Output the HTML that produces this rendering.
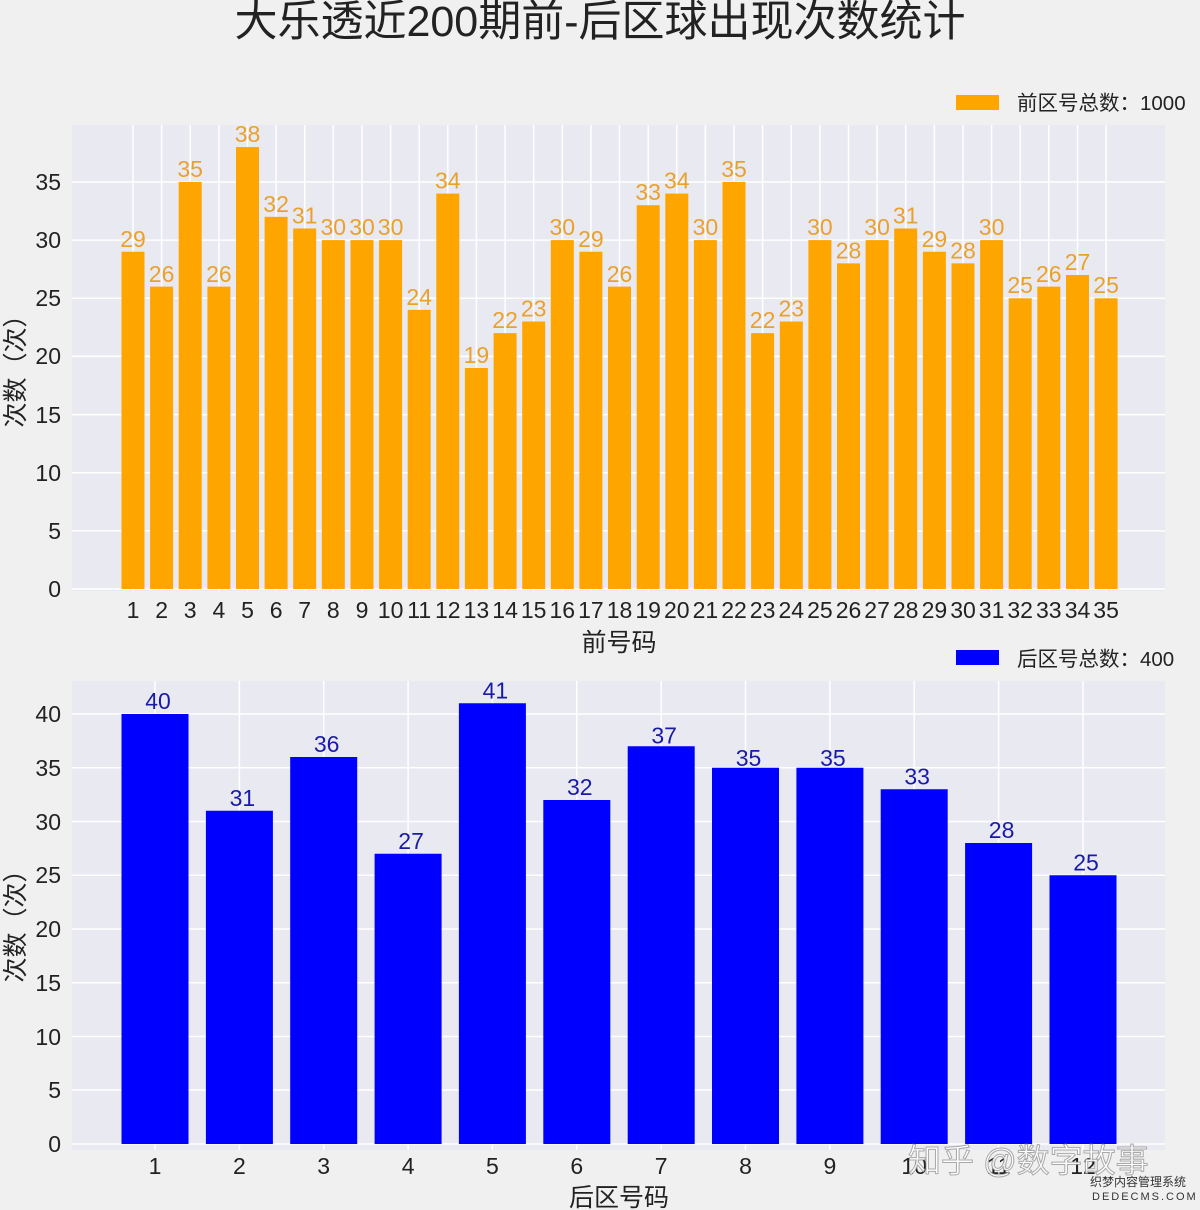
<!DOCTYPE html>
<html><head><meta charset="utf-8"><style>
html,body{margin:0;padding:0;background:#f0f0f0}
svg{display:block}
text{font-family:"Liberation Sans","Noto Sans CJK SC",sans-serif}
</style></head><body>
<svg width="1200" height="1210" viewBox="0 0 1200 1210" xmlns="http://www.w3.org/2000/svg">
<rect width="1200" height="1210" fill="#f0f0f0"/>
<text x="600" y="36" font-size="43" text-anchor="middle" fill="#222">大乐透近200期前-后区球出现次数统计</text>

<!-- TOP -->
<rect x="72" y="125" width="1093" height="466" fill="#e9e9f2"/>
<g stroke="#fff" stroke-width="1.5">
<line x1="72" x2="1165" y1="589" y2="589"/><line x1="72" x2="1165" y1="530.9" y2="530.9"/><line x1="72" x2="1165" y1="472.7" y2="472.7"/><line x1="72" x2="1165" y1="414.6" y2="414.6"/><line x1="72" x2="1165" y1="356.4" y2="356.4"/><line x1="72" x2="1165" y1="298.3" y2="298.3"/><line x1="72" x2="1165" y1="240.1" y2="240.1"/><line x1="72" x2="1165" y1="182" y2="182"/>
<line x1="133" x2="133" y1="125" y2="591"/><line x1="161.6" x2="161.6" y1="125" y2="591"/><line x1="190.2" x2="190.2" y1="125" y2="591"/><line x1="218.9" x2="218.9" y1="125" y2="591"/><line x1="247.5" x2="247.5" y1="125" y2="591"/><line x1="276.1" x2="276.1" y1="125" y2="591"/><line x1="304.7" x2="304.7" y1="125" y2="591"/><line x1="333.3" x2="333.3" y1="125" y2="591"/><line x1="362" x2="362" y1="125" y2="591"/><line x1="390.6" x2="390.6" y1="125" y2="591"/><line x1="419.2" x2="419.2" y1="125" y2="591"/><line x1="447.8" x2="447.8" y1="125" y2="591"/><line x1="476.4" x2="476.4" y1="125" y2="591"/><line x1="505.1" x2="505.1" y1="125" y2="591"/><line x1="533.7" x2="533.7" y1="125" y2="591"/><line x1="562.3" x2="562.3" y1="125" y2="591"/><line x1="590.9" x2="590.9" y1="125" y2="591"/><line x1="619.5" x2="619.5" y1="125" y2="591"/><line x1="648.2" x2="648.2" y1="125" y2="591"/><line x1="676.8" x2="676.8" y1="125" y2="591"/><line x1="705.4" x2="705.4" y1="125" y2="591"/><line x1="734" x2="734" y1="125" y2="591"/><line x1="762.6" x2="762.6" y1="125" y2="591"/><line x1="791.3" x2="791.3" y1="125" y2="591"/><line x1="819.9" x2="819.9" y1="125" y2="591"/><line x1="848.5" x2="848.5" y1="125" y2="591"/><line x1="877.1" x2="877.1" y1="125" y2="591"/><line x1="905.7" x2="905.7" y1="125" y2="591"/><line x1="934.4" x2="934.4" y1="125" y2="591"/><line x1="963" x2="963" y1="125" y2="591"/><line x1="991.6" x2="991.6" y1="125" y2="591"/><line x1="1020.2" x2="1020.2" y1="125" y2="591"/><line x1="1048.8" x2="1048.8" y1="125" y2="591"/><line x1="1077.5" x2="1077.5" y1="125" y2="591"/><line x1="1106.1" x2="1106.1" y1="125" y2="591"/>
</g>
<g transform="translate(0,589) scale(1,-11.63)" fill="#ffa500">
<rect x="121.5" y="0" width="23" height="29"/><rect x="150.1" y="0" width="23" height="26"/><rect x="178.7" y="0" width="23" height="35"/><rect x="207.4" y="0" width="23" height="26"/><rect x="236" y="0" width="23" height="38"/><rect x="264.6" y="0" width="23" height="32"/><rect x="293.2" y="0" width="23" height="31"/><rect x="321.8" y="0" width="23" height="30"/><rect x="350.5" y="0" width="23" height="30"/><rect x="379.1" y="0" width="23" height="30"/><rect x="407.7" y="0" width="23" height="24"/><rect x="436.3" y="0" width="23" height="34"/><rect x="464.9" y="0" width="23" height="19"/><rect x="493.6" y="0" width="23" height="22"/><rect x="522.2" y="0" width="23" height="23"/><rect x="550.8" y="0" width="23" height="30"/><rect x="579.4" y="0" width="23" height="29"/><rect x="608" y="0" width="23" height="26"/><rect x="636.7" y="0" width="23" height="33"/><rect x="665.3" y="0" width="23" height="34"/><rect x="693.9" y="0" width="23" height="30"/><rect x="722.5" y="0" width="23" height="35"/><rect x="751.1" y="0" width="23" height="22"/><rect x="779.8" y="0" width="23" height="23"/><rect x="808.4" y="0" width="23" height="30"/><rect x="837" y="0" width="23" height="28"/><rect x="865.6" y="0" width="23" height="30"/><rect x="894.2" y="0" width="23" height="31"/><rect x="922.9" y="0" width="23" height="29"/><rect x="951.5" y="0" width="23" height="28"/><rect x="980.1" y="0" width="23" height="30"/><rect x="1008.7" y="0" width="23" height="25"/><rect x="1037.3" y="0" width="23" height="26"/><rect x="1066" y="0" width="23" height="27"/><rect x="1094.6" y="0" width="23" height="25"/>
</g>
<g font-size="23" fill="#eaa12c" text-anchor="middle" transform="translate(0,-2)">
<text x="133" y="249">29</text><text x="161.6" y="284">26</text><text x="190.2" y="179">35</text><text x="218.9" y="284">26</text><text x="247.5" y="144">38</text><text x="276.1" y="214">32</text><text x="304.7" y="225.5">31</text><text x="333.3" y="237">30</text><text x="362" y="237">30</text><text x="390.6" y="237">30</text><text x="419.2" y="307">24</text><text x="447.8" y="190.6">34</text><text x="476.4" y="365">19</text><text x="505.1" y="330">22</text><text x="533.7" y="318.5">23</text><text x="562.3" y="237">30</text><text x="590.9" y="249">29</text><text x="619.5" y="284">26</text><text x="648.2" y="202">33</text><text x="676.8" y="190.6">34</text><text x="705.4" y="237">30</text><text x="734" y="179">35</text><text x="762.6" y="330">22</text><text x="791.3" y="318.5">23</text><text x="819.9" y="237">30</text><text x="848.5" y="260.4">28</text><text x="877.1" y="237">30</text><text x="905.7" y="225.5">31</text><text x="934.4" y="249">29</text><text x="963" y="260.4">28</text><text x="991.6" y="237">30</text><text x="1020.2" y="295">25</text><text x="1048.8" y="284">26</text><text x="1077.5" y="272">27</text><text x="1106.1" y="295">25</text>
</g>
<g font-size="23" fill="#222" text-anchor="end">
<text x="61" y="597">0</text><text x="61" y="539">5</text><text x="61" y="481">10</text><text x="61" y="423">15</text><text x="61" y="364">20</text><text x="61" y="306">25</text><text x="61" y="248">30</text><text x="61" y="190">35</text>
</g>
<g font-size="23" fill="#222" text-anchor="middle">
<text x="133" y="618">1</text><text x="161.6" y="618">2</text><text x="190.2" y="618">3</text><text x="218.9" y="618">4</text><text x="247.5" y="618">5</text><text x="276.1" y="618">6</text><text x="304.7" y="618">7</text><text x="333.3" y="618">8</text><text x="362" y="618">9</text><text x="390.6" y="618">10</text><text x="419.2" y="618">11</text><text x="447.8" y="618">12</text><text x="476.4" y="618">13</text><text x="505.1" y="618">14</text><text x="533.7" y="618">15</text><text x="562.3" y="618">16</text><text x="590.9" y="618">17</text><text x="619.5" y="618">18</text><text x="648.2" y="618">19</text><text x="676.8" y="618">20</text><text x="705.4" y="618">21</text><text x="734" y="618">22</text><text x="762.6" y="618">23</text><text x="791.3" y="618">24</text><text x="819.9" y="618">25</text><text x="848.5" y="618">26</text><text x="877.1" y="618">27</text><text x="905.7" y="618">28</text><text x="934.4" y="618">29</text><text x="963" y="618">30</text><text x="991.6" y="618">31</text><text x="1020.2" y="618">32</text><text x="1048.8" y="618">33</text><text x="1077.5" y="618">34</text><text x="1106.1" y="618">35</text>
<text x="619" y="651" font-size="25">前号码</text>
<text transform="translate(24,365) rotate(-90)" font-size="25">次数（次）</text>
</g>
<rect x="956" y="95" width="43" height="15" fill="#ffa500"/>
<text x="1017" y="110" font-size="20.5" fill="#222">前区号总数：1000</text>

<!-- BOTTOM -->
<rect x="72" y="681" width="1093" height="469" fill="#e9e9f2"/>
<g stroke="#fff" stroke-width="1.5">
<line x1="72" x2="1165" y1="1144" y2="1144"/><line x1="72" x2="1165" y1="1090" y2="1090"/><line x1="72" x2="1165" y1="1036.5" y2="1036.5"/><line x1="72" x2="1165" y1="982.8" y2="982.8"/><line x1="72" x2="1165" y1="929" y2="929"/><line x1="72" x2="1165" y1="875.3" y2="875.3"/><line x1="72" x2="1165" y1="821.5" y2="821.5"/><line x1="72" x2="1165" y1="767.8" y2="767.8"/><line x1="72" x2="1165" y1="714" y2="714"/>
<line x1="155" x2="155" y1="681" y2="1150"/><line x1="239.4" x2="239.4" y1="681" y2="1150"/><line x1="323.7" x2="323.7" y1="681" y2="1150"/><line x1="408.1" x2="408.1" y1="681" y2="1150"/><line x1="492.4" x2="492.4" y1="681" y2="1150"/><line x1="576.8" x2="576.8" y1="681" y2="1150"/><line x1="661.2" x2="661.2" y1="681" y2="1150"/><line x1="745.5" x2="745.5" y1="681" y2="1150"/><line x1="829.9" x2="829.9" y1="681" y2="1150"/><line x1="914.2" x2="914.2" y1="681" y2="1150"/><line x1="998.6" x2="998.6" y1="681" y2="1150"/><line x1="1083" x2="1083" y1="681" y2="1150"/>
</g>
<g transform="translate(0,1144) scale(1,-10.75)" fill="#0000ff">
<rect x="121.5" y="0" width="67" height="40"/><rect x="205.9" y="0" width="67" height="31"/><rect x="290.2" y="0" width="67" height="36"/><rect x="374.6" y="0" width="67" height="27"/><rect x="458.9" y="0" width="67" height="41"/><rect x="543.3" y="0" width="67" height="32"/><rect x="627.7" y="0" width="67" height="37"/><rect x="712" y="0" width="67" height="35"/><rect x="796.4" y="0" width="67" height="35"/><rect x="880.7" y="0" width="67" height="33"/><rect x="965.1" y="0" width="67" height="28"/><rect x="1049.5" y="0" width="67" height="25"/>
</g>
<g font-size="23" fill="#1a1aa8" text-anchor="middle" transform="translate(0,-2)">
<text x="158" y="711">40</text><text x="242.4" y="807.8">31</text><text x="326.7" y="753.8">36</text><text x="411.1" y="850.8">27</text><text x="495.4" y="700.3">41</text><text x="579.8" y="797">32</text><text x="664.2" y="745.3">37</text><text x="748.5" y="767.8">35</text><text x="832.9" y="767.8">35</text><text x="917.2" y="786.3">33</text><text x="1001.6" y="840">28</text><text x="1086" y="872.3">25</text>
</g>
<g font-size="23" fill="#222" text-anchor="end">
<text x="61" y="1152">0</text><text x="61" y="1098">5</text><text x="61" y="1045">10</text><text x="61" y="991">15</text><text x="61" y="937">20</text><text x="61" y="883">25</text><text x="61" y="830">30</text><text x="61" y="776">35</text><text x="61" y="722">40</text>
</g>
<g font-size="23" fill="#222" text-anchor="middle">
<text x="155" y="1174">1</text><text x="239.4" y="1174">2</text><text x="323.7" y="1174">3</text><text x="408.1" y="1174">4</text><text x="492.4" y="1174">5</text><text x="576.8" y="1174">6</text><text x="661.2" y="1174">7</text><text x="745.5" y="1174">8</text><text x="829.9" y="1174">9</text><text x="914.2" y="1174">10</text><text x="998.6" y="1174">11</text><text x="1083" y="1174">12</text>
<text x="619" y="1206" font-size="25">后区号码</text>
<text transform="translate(24,920) rotate(-90)" font-size="25">次数（次）</text>
</g>
<rect x="956" y="650" width="43" height="15" fill="#0000ff"/>
<text x="1017" y="666" font-size="20.5" fill="#222">后区号总数：400</text>

<text x="908" y="1172" font-size="33" fill="#ffffff" fill-opacity="0.9" stroke="#888" stroke-width="1" stroke-opacity="0.7">知乎 @数字故事</text>
<text x="1090" y="1186" font-size="12" fill="#333">织梦内容管理系统</text>
<text x="1092" y="1200" font-size="11" fill="#333" letter-spacing="2">DEDECMS.COM</text>
</svg>
</body></html>
